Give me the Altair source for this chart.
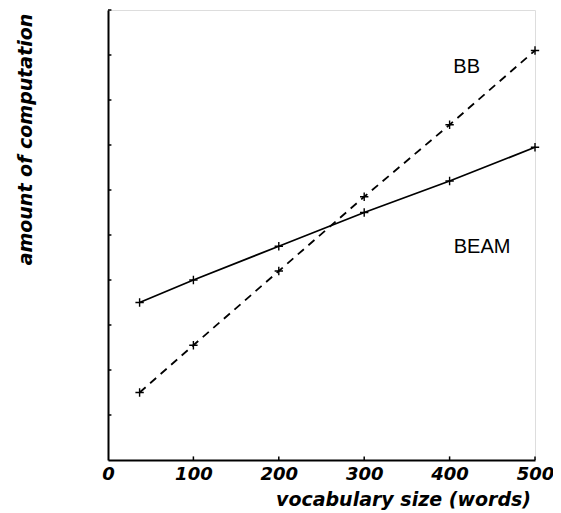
import altair as alt
import pandas as pd

# data
vocab = [37, 100, 200, 300, 400, 500]
beam = [3.5, 4.0, 4.75, 5.5, 6.2, 6.95]
bb = [1.5, 2.55, 4.2, 5.85, 7.45, 9.1]
x_ticks = [100, 200, 300, 400, 500]
y_ticks = [1, 2, 3, 4, 5, 6, 7, 8, 9, 10]
label_names = ["BB", "BEAM"]
label_x = [420, 438]
label_y = [8.73, 4.73]

rows = []
for v, a, b in zip(vocab, beam, bb):
    rows.append({"size": v, "value": a, "series": "BEAM"})
    rows.append({"size": v, "value": b, "series": "BB"})
df = pd.DataFrame(rows)

xt = pd.DataFrame({"t": x_ticks})
yt = pd.DataFrame({"t": y_ticks})
lab = pd.DataFrame({"name": label_names, "x": label_x, "y": label_y})

FONT = "DejaVu Sans"

xscale = alt.Scale(domain=[0, 500], nice=False)
yscale = alt.Scale(domain=[0, 10], nice=False)

xaxis = alt.Axis(
    values=[0, 100, 200, 300, 400, 500], grid=False, ticks=False,
    domainColor="black", domainWidth=2,
    labelFont=FONT, labelFontSize=18, labelFontWeight="bold", labelFontStyle="italic",
    labelColor="black", labelPadding=5, labelFlush=False,
    title="vocabulary size (words)", titleFont=FONT, titleFontSize=19,
    titleFontWeight="bold", titleFontStyle="italic", titleColor="black",
    titleX=295, titleY=45, titleBaseline="alphabetic", titleAlign="center",
)
yaxis = alt.Axis(
    values=[], grid=False, ticks=False, labels=False,
    domainColor="black", domainWidth=2,
    title="amount of computation", titleFont=FONT, titleFontSize=19,
    titleFontWeight="bold", titleFontStyle="italic", titleColor="black",
    titleX=-83, titleY=129, titleAngle=270, titleAlign="center",
    titleBaseline="middle",
)

base = alt.Chart(df)
cross = "M-1,0L1,0M0,-1L0,1"

beam_line = base.transform_filter(alt.datum.series == "BEAM").mark_line(
    color="black", strokeWidth=1.8
).encode(
    x=alt.X("size:Q", scale=xscale, axis=xaxis),
    y=alt.Y("value:Q", scale=yscale, axis=yaxis),
)
bb_line = base.transform_filter(alt.datum.series == "BB").mark_line(
    color="black", strokeWidth=1.8, strokeDash=[8, 6]
).encode(
    x=alt.X("size:Q", scale=xscale),
    y=alt.Y("value:Q", scale=yscale),
)
pts = base.mark_point(
    shape=cross, filled=False, color="black", strokeWidth=1.4, size=70, opacity=1
).encode(
    x=alt.X("size:Q", scale=xscale),
    y=alt.Y("value:Q", scale=yscale),
)

xtick_rules = alt.Chart(xt).mark_rule(color="black", strokeWidth=1.5).encode(
    x=alt.X("t:Q", scale=xscale),
    y=alt.datum(0, scale=yscale),
    y2=alt.datum(0.08),
)
ytick_rules = alt.Chart(yt).mark_rule(color="black", strokeWidth=1.5).encode(
    y=alt.Y("t:Q", scale=yscale),
    x=alt.datum(0, scale=xscale),
    x2=alt.datum(4),
)

labels = alt.Chart(lab).mark_text(
    font="Liberation Sans", fontSize=20, color="black", align="center", baseline="middle"
).encode(
    x=alt.X("x:Q", scale=xscale),
    y=alt.Y("y:Q", scale=yscale),
    text="name:N",
)

chart = alt.layer(
    xtick_rules, ytick_rules, beam_line, bb_line, pts, labels
).properties(
    width=427, height=450,
    autosize=alt.AutoSizeParams(type="none"),
    padding={"left": 100, "top": 2, "right": 18, "bottom": 55},
).configure_view(stroke=None).configure(background="white")

chart.save("out.html", embed_options={"renderer": "svg", "actions": False})
